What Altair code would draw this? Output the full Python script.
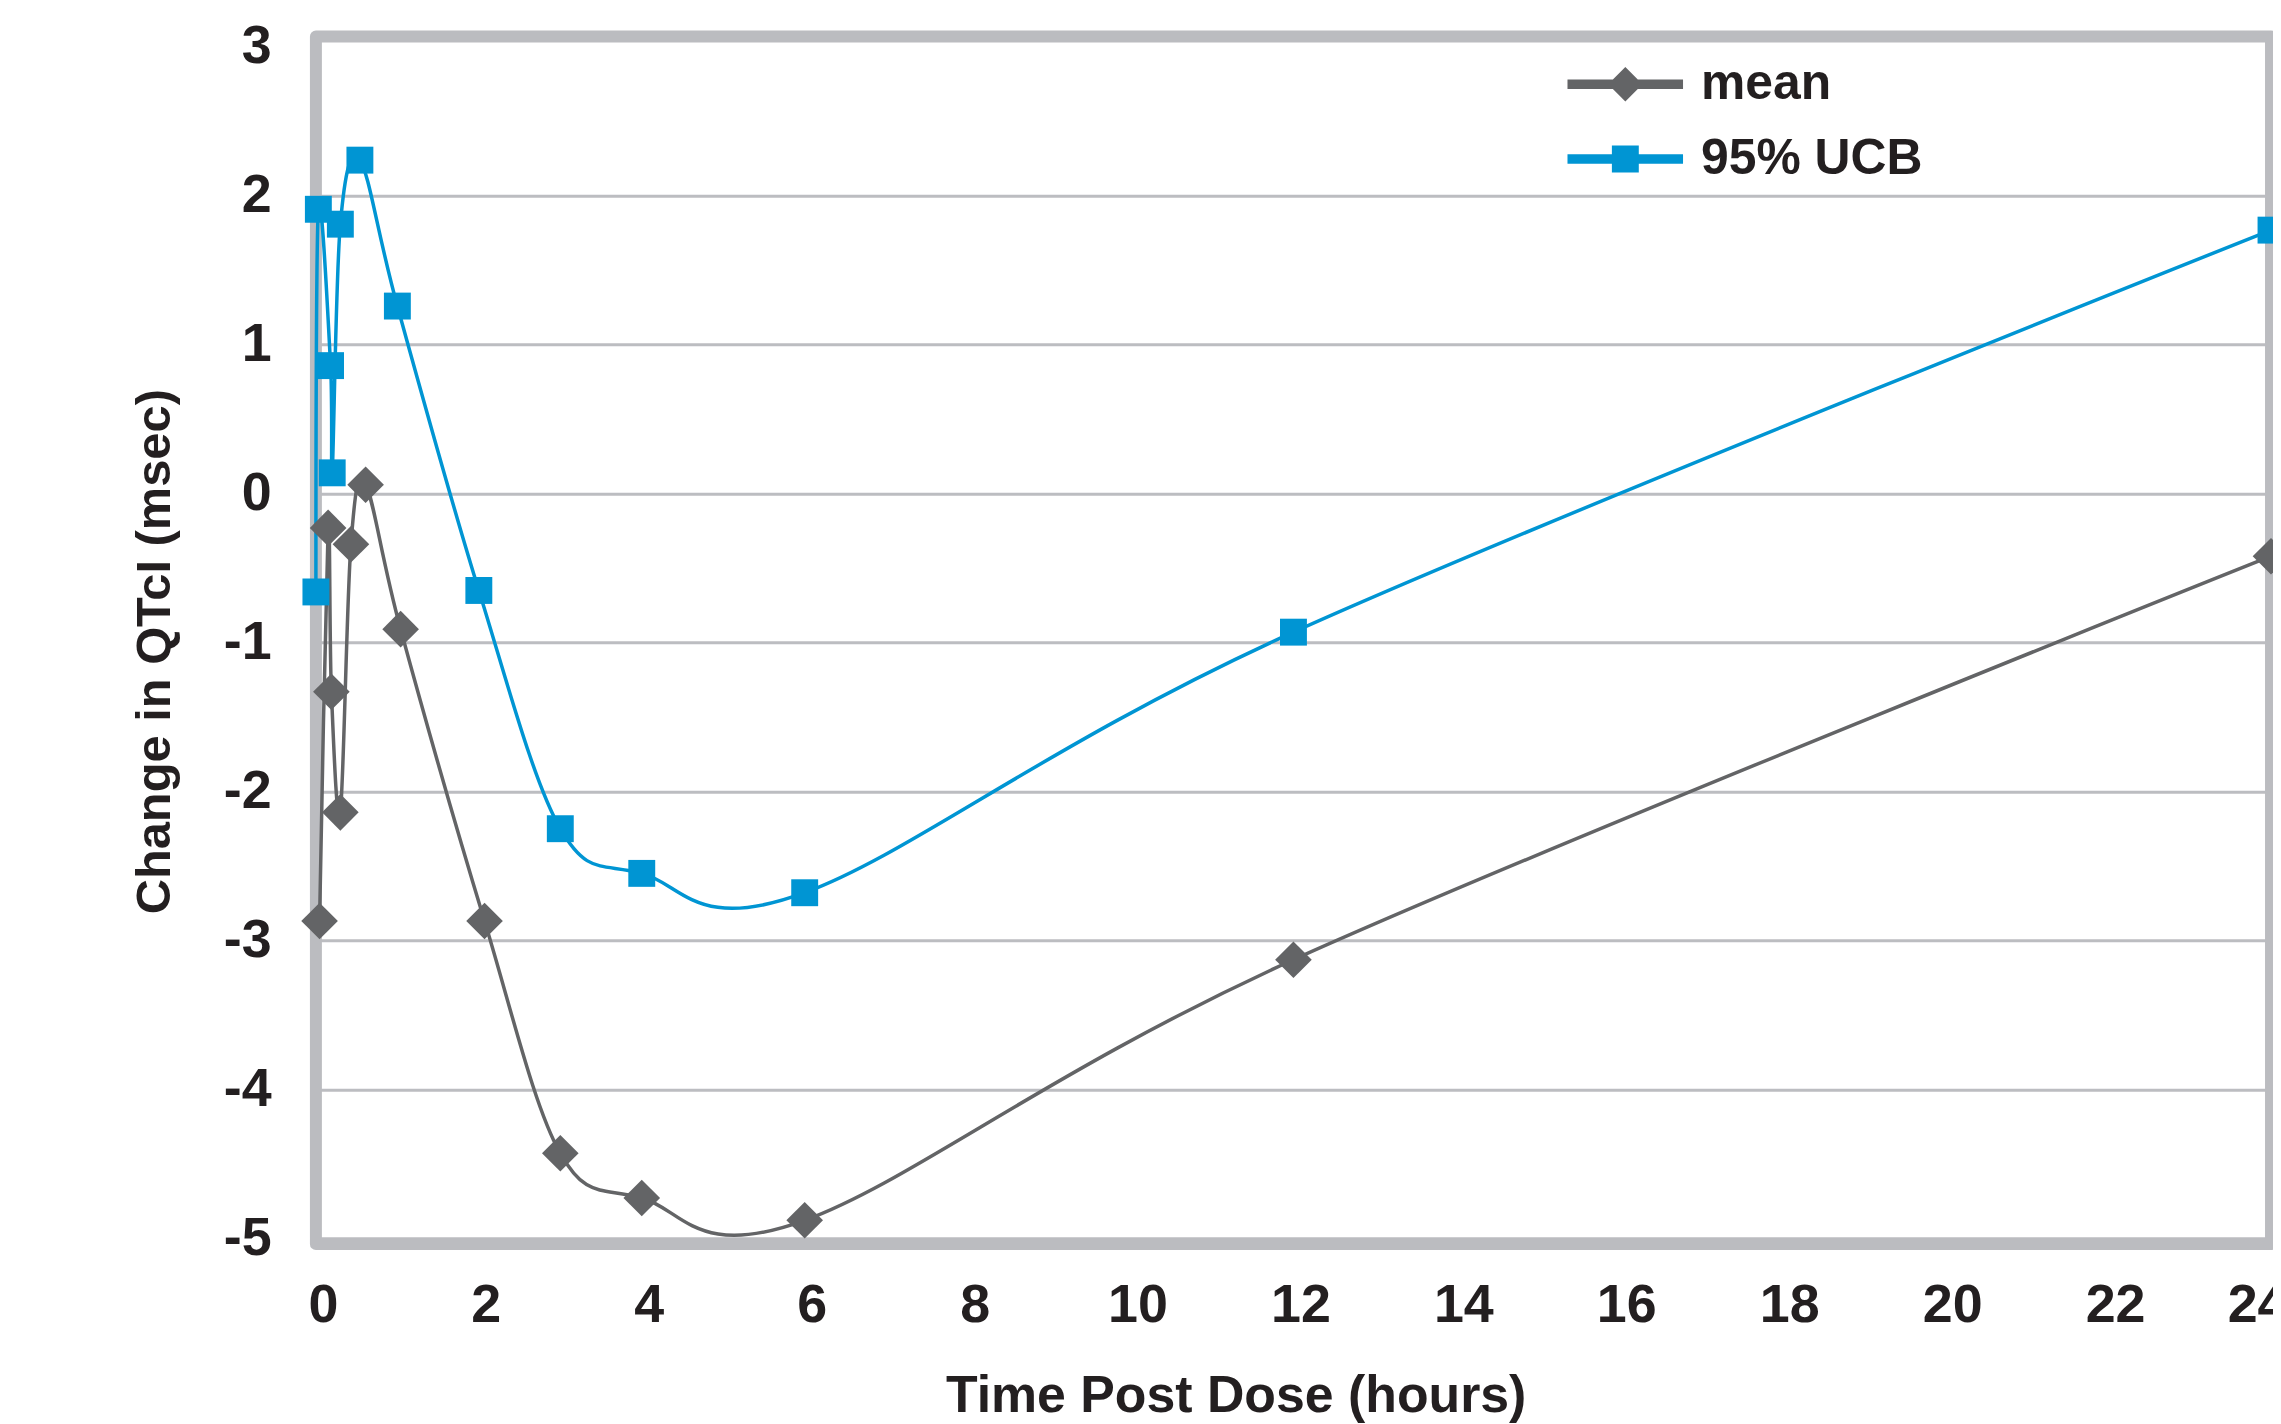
import altair as alt
import pandas as pd

# ---- data ----
series_names = ["mean", "95% UCB"]
mean_hours = [0.045, 0.15, 0.19, 0.30, 0.43, 0.61, 1.04, 2.07, 3.0, 4.0, 6.0, 12.0, 24.0]
mean_change = [-2.87, -0.23, -1.33, -2.14, -0.34, 0.06, -0.91, -2.87, -4.43, -4.73, -4.88, -3.13, -0.42]
ucb_hours = [0.0, 0.03, 0.18, 0.20, 0.30, 0.54, 1.0, 2.0, 3.0, 4.0, 6.0, 12.0, 24.0]
ucb_change = [-0.66, 1.91, 0.86, 0.14, 1.81, 2.24, 1.26, -0.65, -2.25, -2.55, -2.68, -0.93, 1.77]
x_ticks = [0, 2, 4, 6, 8, 10, 12, 14, 16, 18, 20, 22, 24]
y_ticks = [-5, -4, -3, -2, -1, 0, 1, 2, 3]
x_range = [0, 24]
y_range = [-5.04, 3.071]

rows = []
for h, v in zip(mean_hours, mean_change):
    rows.append({"series": series_names[0], "hours": h, "change": v})
for h, v in zip(ucb_hours, ucb_change):
    rows.append({"series": series_names[1], "hours": h, "change": v})
df = pd.DataFrame(rows)

GRAY = "#636466"
BLUE = "#0095d3"
FRAME = "#bbbcc0"
TEXT = "#231f20"
FONT = "Liberation Sans"

x_scale = alt.Scale(domain=x_range, nice=False, zero=False)
y_scale = alt.Scale(domain=y_range, nice=False, zero=False)

x_axis = alt.Axis(
    values=x_ticks, title="Time Post Dose (hours)", grid=False, domain=False,
    ticks=False, tickSize=0, labelFlush=False, labelOverlap=False,
    labelFont=FONT, labelFontSize=54, labelFontWeight="bold", labelColor=TEXT,
    labelPadding=35,
    labelOffset={"condition": {"test": "datum.value >= 24", "value": -14}, "value": 7},
    titleFont=FONT, titleFontSize=52, titleFontWeight="bold", titleColor=TEXT,
    titleX=923, titleY=168, titleAlign="center", titleBaseline="alphabetic",
)
y_axis = alt.Axis(
    values=y_ticks, title="Change in QTcI (msec)", grid=True, gridColor="#bcbdc1",
    gridWidth=3,
    gridOpacity={"condition": {"test": "datum.value >= 3", "value": 0}, "value": 1},
    domain=False, ticks=False, tickSize=0,
    labelExpr="datum.value < 0 ? '-' + abs(datum.value) : '' + datum.value",
    labelFont=FONT, labelFontSize=54, labelFontWeight="bold", labelColor=TEXT,
    labelPadding=45,
    titleFont=FONT, titleFontSize=49, titleFontWeight="bold", titleColor=TEXT,
    titleAngle=270, titleX=-147, titleY=617, titleAlign="center",
    titleBaseline="alphabetic",
)

x_enc = alt.X("hours:Q", scale=x_scale, axis=x_axis)
y_enc = alt.Y("change:Q", scale=y_scale, axis=y_axis)

# legend symbols: a line with the marker in its middle
mean_sym = "M-1,-0.32H6.73V0.32H-1Z M2.87,-1.15L4.02,0L2.87,1.15L1.72,0Z"
ucb_sym = "M-1,-0.32H6.73V0.32H-1Z M1.97,-0.9H3.77V0.9H1.97Z"


def make_legend(sym, y):
    return alt.Legend(
        title=None, orient="none", legendX=1246, legendY=y, padding=0,
        labelFont=FONT, labelFontSize=50, labelFontWeight="bold", labelColor=TEXT,
        labelLimit=600,
        symbolType=sym, symbolSize=900, symbolStrokeWidth=0, labelOffset=94,
    )


# plot frame drawn through the scales (same x/y fields as the data layers)
frame_df = pd.DataFrame({"hours": [x_range[0]], "hours_end": [x_range[1]],
                         "change": [y_range[0]], "change_end": [y_range[1]]})
frame = alt.Chart(frame_df).mark_rect(
    filled=False, stroke=FRAME, strokeWidth=12, strokeJoin="round"
).encode(
    x=x_enc,
    x2="hours_end:Q",
    y=y_enc,
    y2="change_end:Q",
)

lines = alt.Chart(df).mark_line(interpolate="cardinal", strokeWidth=3.5).encode(
    x=x_enc,
    y=y_enc,
    stroke=alt.Stroke("series:N", scale=alt.Scale(domain=series_names, range=[GRAY, BLUE]), legend=None),
    detail="series:N",
)

mean_pts = alt.Chart(df).transform_filter(alt.datum.series == series_names[0]).mark_point(
    filled=True, opacity=1, shape="diamond", size=1350, strokeWidth=0
).encode(
    x=x_enc,
    y=y_enc,
    fill=alt.Fill("series:N", scale=alt.Scale(domain=[series_names[0]], range=[GRAY]),
                  legend=make_legend(mean_sym, 23)),
)

ucb_pts = alt.Chart(df).transform_filter(alt.datum.series == series_names[1]).mark_point(
    filled=True, opacity=1, shape="square", size=729, strokeWidth=0
).encode(
    x=x_enc,
    y=y_enc,
    color=alt.Color("series:N", scale=alt.Scale(domain=[series_names[1]], range=[BLUE]),
                    legend=make_legend(ucb_sym, 98)),
)

chart = alt.layer(frame, lines, mean_pts, ucb_pts).properties(
    width=1962,
    height=1212,
    autosize=alt.AutoSizeParams(type="none"),
    padding={"left": 309, "top": 26, "right": 2, "bottom": 180},
).configure_view(
    strokeWidth=0, fill="white"
).configure(background="white")

chart.save("out.html", embed_options={"renderer": "svg", "actions": False})
